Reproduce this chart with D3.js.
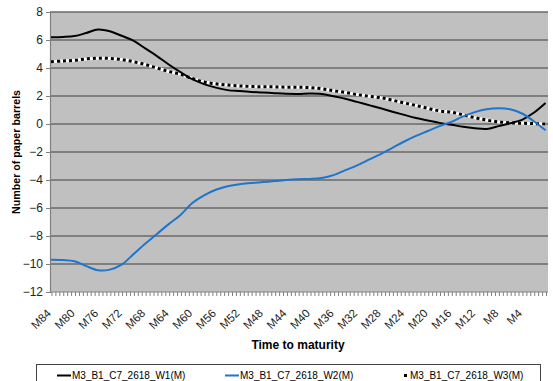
<!DOCTYPE html>
<html>
<head>
<meta charset="utf-8">
<script src="https://cdn.jsdelivr.net/npm/d3@7"></script>
<style>
  html, body { margin: 0; padding: 0; background: #fff; }
  svg { display: block; font-family: "Liberation Sans", Arial, sans-serif; }
</style>
</head>
<body>
<svg id="chart" width="553" height="381"></svg>
<script>
// ---- Data (months to maturity, every 2 months) ----
const months = [84,82,80,78,76,74,72,70,68,66,64,62,60,58,56,54,52,50,48,46,44,42,40,38,36,34,32,30,28,26,24,22,20,18,16,14,12,10,8,6,4,2,0];
const w1 = [6.2,6.22,6.28,6.5,6.75,6.62,6.3,5.95,5.4,4.85,4.25,3.7,3.2,2.85,2.6,2.42,2.35,2.29,2.25,2.2,2.16,2.15,2.18,2.15,1.98,1.8,1.58,1.35,1.12,0.88,0.65,0.43,0.25,0.08,-0.05,-0.2,-0.3,-0.35,-0.15,0.05,0.3,0.8,1.5];
const w2 = [-9.7,-9.72,-9.8,-10.15,-10.45,-10.4,-10.05,-9.3,-8.55,-7.85,-7.15,-6.5,-5.65,-5.1,-4.7,-4.45,-4.3,-4.22,-4.15,-4.08,-4.0,-3.95,-3.92,-3.85,-3.65,-3.3,-2.95,-2.55,-2.15,-1.7,-1.25,-0.85,-0.5,-0.15,0.15,0.55,0.85,1.05,1.12,1.05,0.75,0.2,-0.45];
const w3 = [4.45,4.5,4.55,4.65,4.7,4.68,4.6,4.45,4.25,4.0,3.75,3.55,3.25,3.0,2.87,2.78,2.72,2.68,2.66,2.65,2.63,2.62,2.6,2.52,2.38,2.25,2.1,1.98,1.88,1.7,1.5,1.32,1.12,0.93,0.85,0.65,0.45,0.28,0.15,0.08,0.05,0.03,0.0];
const seriesNames = ["M3_B1_C7_2618_W1(M)", "M3_B1_C7_2618_W2(M)", "M3_B1_C7_2618_W3(M)"];
const xLabelMonths = [84,80,76,72,68,64,60,56,52,48,44,40,36,32,28,24,20,16,12,8,4];
const yTicks = [-12,-10,-8,-6,-4,-2,0,2,4,6,8];

// ---- Layout ----
const svg = d3.select("#chart");
const L = 50, R = 548, T = 12, B = 292;
const x = d3.scaleLinear().domain([84.17, -0.42]).range([L, R]);
const y = d3.scaleLinear().domain([-12, 8]).range([B, T]);

// plot background
svg.append("rect").attr("x", L).attr("y", T).attr("width", R - L).attr("height", B - T)
  .attr("fill", "#c0c0c0");

// gridlines
svg.append("g").selectAll("line").data(yTicks.filter(d => d > -12)).join("line")
  .attr("x1", L).attr("x2", R).attr("y1", d => y(d)).attr("y2", d => y(d))
  .attr("stroke", "#6a6a6a").attr("stroke-width", 1.4);

// y axis
const yAxis = d3.axisLeft(y).tickValues(yTicks).tickSize(4).tickPadding(3).tickFormat(d3.format("d"));
const gy = svg.append("g").attr("transform", `translate(${L},0)`).call(yAxis);
gy.select(".domain").attr("stroke", "#808080").attr("stroke-width", 1.2);
gy.selectAll(".tick line").attr("stroke", "#808080");
gy.selectAll("text").attr("font-size", 12).attr("fill", "#222")
  .attr("font-family", "'Liberation Sans', Arial, sans-serif");

// x axis minor ticks
const minorTicks = d3.range(84.17 - 1/3, -0.42, -2/3);
const gx = svg.append("g").attr("transform", `translate(0,${B})`);
gx.append("line").attr("x1", L).attr("x2", R).attr("y1", 0).attr("y2", 0)
  .attr("stroke", "#808080").attr("stroke-width", 1.2);
gx.selectAll("line.mt").data(minorTicks).join("line").attr("class", "mt")
  .attr("x1", d => x(d)).attr("x2", d => x(d)).attr("y1", 0).attr("y2", 4)
  .attr("stroke", "#808080").attr("stroke-width", 1);
gx.selectAll("text").data(xLabelMonths).join("text")
  .attr("transform", d => `translate(${x(d) - 2},${19}) rotate(-45)`)
  .attr("text-anchor", "end").attr("dy", "0.35em")
  .attr("font-size", 11.5).attr("fill", "#222")
  .text(d => "M" + d);

// lines
const line = vals => d3.line()
  .x((d, i) => x(months[i]))
  .y(d => y(d))
  .curve(d3.curveCatmullRom.alpha(0.5))(vals);

svg.append("path").attr("d", line(w3)).attr("fill", "none")
  .attr("stroke", "#ffffff").attr("stroke-width", 3);
svg.append("path").attr("d", line(w3)).attr("fill", "none")
  .attr("stroke", "#000000").attr("stroke-width", 3).attr("stroke-dasharray", "3,3");
svg.append("path").attr("d", line(w1)).attr("fill", "none")
  .attr("stroke", "#000000").attr("stroke-width", 2);
svg.append("path").attr("d", line(w2)).attr("fill", "none")
  .attr("stroke", "#1f74cc").attr("stroke-width", 2);

// axis titles
svg.append("text").attr("transform", `translate(16,${(T + B) / 2}) rotate(-90)`)
  .attr("text-anchor", "middle").attr("dy", "0.35em")
  .attr("font-size", 10.7).attr("font-weight", "bold").text("Number of paper barrels");
svg.append("text").attr("x", 298).attr("y", 349)
  .attr("text-anchor", "middle").attr("font-size", 12).attr("font-weight", "bold")
  .text("Time to maturity");

// legend
svg.append("rect").attr("x", 36.5).attr("y", 364.5).attr("width", 504).attr("height", 25)
  .attr("fill", "#fff").attr("stroke", "#444").attr("stroke-width", 1);
const legX = [57, 225, 404];
const lg = svg.append("g");
seriesNames.forEach((name, i) => {
  const g = lg.append("g").attr("transform", `translate(${legX[i]},375.5)`);
  if (i === 0) g.append("line").attr("x1", 0).attr("x2", 14).attr("stroke", "#000").attr("stroke-width", 2);
  if (i === 1) g.append("line").attr("x1", 0).attr("x2", 14).attr("stroke", "#1f74cc").attr("stroke-width", 2);
  if (i === 2) g.append("rect").attr("x", 0).attr("y", -1.5).attr("width", 3).attr("height", 3).attr("fill", "#000");
  g.append("text").attr("x", i === 2 ? 6 : 15).attr("dy", "0.35em")
    .attr("font-size", 10).attr("fill", "#000").text(name);
});
</script>
</body>
</html>
